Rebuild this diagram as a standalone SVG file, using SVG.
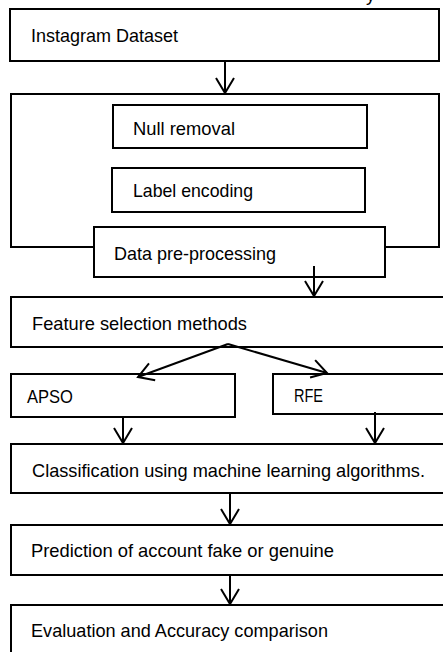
<svg xmlns="http://www.w3.org/2000/svg" width="443" height="652" viewBox="0 0 443 652">
<style>
.box{fill:#fff;stroke:#000;stroke-width:2}
.lbl{font-family:"Liberation Sans",Arial,sans-serif;font-size:18.5px;fill:#000}
.con{stroke:#000;stroke-width:2;fill:none;marker-end:url(#arr)}
</style>
<defs>
<marker id="arr" markerUnits="userSpaceOnUse" markerWidth="20" markerHeight="22" refX="0" refY="0" viewBox="-17 -11 19 22" orient="auto" overflow="visible">
<path d="M-15,-9 L0,0 L-15,9" fill="none" stroke="#000" stroke-width="2"/>
</marker>
</defs>
<rect width="443" height="652" fill="#fff"/>
<text class="lbl" x="366" y="1">y</text>
<g id="instagram">
<rect class="box" x="10" y="9" width="429" height="52"/>
<text class="lbl" x="31" y="42" textLength="147" lengthAdjust="spacingAndGlyphs">Instagram Dataset</text>
</g>
<g id="preprocessing-group">
<rect class="box" x="11" y="94" width="428" height="153"/>
</g>
<g id="null-removal">
<rect class="box" x="113" y="105" width="254" height="43"/>
<text class="lbl" x="133" y="135" textLength="102" lengthAdjust="spacingAndGlyphs">Null removal</text>
</g>
<g id="label-encoding">
<rect class="box" x="112" y="168" width="253" height="44"/>
<text class="lbl" x="133" y="197" textLength="120" lengthAdjust="spacingAndGlyphs">Label encoding</text>
</g>
<g id="data-preprocessing">
<rect class="box" x="94" y="227" width="291" height="50"/>
<text class="lbl" x="114" y="260" textLength="162" lengthAdjust="spacingAndGlyphs">Data pre-processing</text>
</g>
<g id="feature-selection">
<rect class="box" x="11" y="297" width="445" height="50"/>
<text class="lbl" x="32" y="330" textLength="215" lengthAdjust="spacingAndGlyphs">Feature selection methods</text>
</g>
<g id="apso">
<rect class="box" x="11" y="374" width="224" height="43"/>
<text class="lbl" x="27" y="403" textLength="46" lengthAdjust="spacingAndGlyphs">APSO</text>
</g>
<g id="rfe">
<rect class="box" x="273" y="374" width="183" height="40"/>
<text class="lbl" x="294" y="402" textLength="29" lengthAdjust="spacingAndGlyphs">RFE</text>
</g>
<g id="classification">
<rect class="box" x="11" y="444" width="445" height="49"/>
<text class="lbl" x="32" y="477" textLength="393" lengthAdjust="spacingAndGlyphs">Classification using machine learning algorithms.</text>
</g>
<g id="prediction">
<rect class="box" x="11" y="525" width="445" height="50"/>
<text class="lbl" x="31" y="557" textLength="303" lengthAdjust="spacingAndGlyphs">Prediction of account fake or genuine</text>
</g>
<g id="evaluation">
<rect class="box" x="11" y="605" width="445" height="60"/>
<text class="lbl" x="31" y="637" textLength="297" lengthAdjust="spacingAndGlyphs">Evaluation and Accuracy comparison</text>
</g>
<g id="connectors">
<line class="con" x1="225" y1="61" x2="225" y2="93"/>
<line class="con" x1="314" y1="266" x2="314" y2="296"/>
<line class="con" x1="228" y1="344" x2="138" y2="377"/>
<line class="con" x1="228" y1="344" x2="327" y2="373"/>
<line class="con" x1="123" y1="416" x2="123" y2="443"/>
<line class="con" x1="375" y1="412" x2="375" y2="443"/>
<line class="con" x1="230" y1="493" x2="230" y2="524"/>
<line class="con" x1="230" y1="575" x2="230" y2="604"/>
</g>
</svg>
